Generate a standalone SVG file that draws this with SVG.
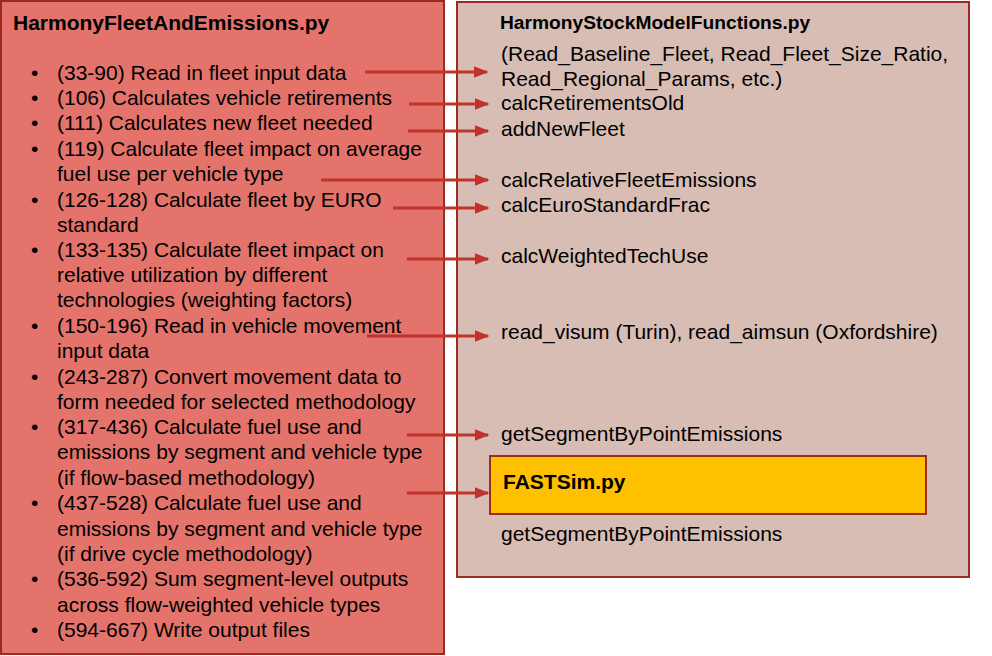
<svg xmlns="http://www.w3.org/2000/svg" width="992" height="656" viewBox="0 0 992 656">
<defs>
<style>
text{font-family:"Liberation Sans",Arial,sans-serif;font-size:21px;fill:#000}
.b{font-weight:bold}
.t2{font-size:19.2px}
.c{stroke:#c0322b;stroke-width:3;fill:none}
</style>
<marker id="ah" markerWidth="5" markerHeight="4" refX="4.5" refY="2" orient="auto" markerUnits="strokeWidth">
<path d="M0,0 L5,2 L0,4 z" fill="#c0322b"/>
</marker>
</defs>
<rect width="992" height="656" fill="#fff"/>
<g id="fleet">
<rect x="1" y="1" width="443" height="653" fill="#e3736b" stroke="#9b2a22" stroke-width="2"/>
<text class="b" x="13" y="30">HarmonyFleetAndEmissions.py</text>
<g>
<text x="31" y="80">•</text><text x="57" y="80">(33-90) Read in fleet input data</text>
<text x="31" y="105">•</text><text x="57" y="105">(106) Calculates vehicle retirements</text>
<text x="31" y="130">•</text><text x="57" y="130">(111) Calculates new fleet needed</text>
<text x="31" y="156">•</text><text x="57" y="156">(119) Calculate fleet impact on average</text>
<text x="57" y="181">fuel use per vehicle type</text>
<text x="31" y="207">•</text><text x="57" y="207">(126-128) Calculate fleet by EURO</text>
<text x="57" y="232">standard</text>
<text x="31" y="257">•</text><text x="57" y="257">(133-135) Calculate fleet impact on</text>
<text x="57" y="282">relative utilization by different</text>
<text x="57" y="307">technologies (weighting factors)</text>
<text x="31" y="333">•</text><text x="57" y="333">(150-196) Read in vehicle movement</text>
<text x="57" y="358">input data</text>
<text x="31" y="384">•</text><text x="57" y="384">(243-287) Convert movement data to</text>
<text x="57" y="409">form needed for selected methodology</text>
<text x="31" y="434">•</text><text x="57" y="434">(317-436) Calculate fuel use and</text>
<text x="57" y="459">emissions by segment and vehicle type</text>
<text x="57" y="485">(if flow-based methodology)</text>
<text x="31" y="510">•</text><text x="57" y="510">(437-528) Calculate fuel use and</text>
<text x="57" y="536">emissions by segment and vehicle type</text>
<text x="57" y="561">(if drive cycle methodology)</text>
<text x="31" y="586">•</text><text x="57" y="586">(536-592) Sum segment-level outputs</text>
<text x="57" y="612">across flow-weighted vehicle types</text>
<text x="31" y="637">•</text><text x="57" y="637">(594-667) Write output files</text>
</g>
</g>
<g id="stock">
<rect x="457" y="2" width="512" height="575" fill="#d8bdb4" stroke="#9b2a22" stroke-width="2"/>
<text class="b t2" x="500" y="29">HarmonyStockModelFunctions.py</text>
<text x="501" y="61">(Read_Baseline_Fleet, Read_Fleet_Size_Ratio,</text>
<text x="501" y="86">Read_Regional_Params, etc.)</text>
<text x="501" y="110">calcRetirementsOld</text>
<text x="501" y="136">addNewFleet</text>
<text x="501" y="187">calcRelativeFleetEmissions</text>
<text x="501" y="212">calcEuroStandardFrac</text>
<text x="501" y="263">calcWeightedTechUse</text>
<text x="501" y="339">read_visum (Turin), read_aimsun (Oxfordshire)</text>
<text x="501" y="441">getSegmentByPointEmissions</text>
<text x="501" y="541">getSegmentByPointEmissions</text>
</g>
<g id="fastsim">
<rect x="490" y="456" width="436" height="58" fill="#ffc000" stroke="#9b2a22" stroke-width="2"/>
<text class="b" x="503" y="489">FASTSim.py</text>
</g>
<g id="connectors">
<line class="c" x1="365" y1="72" x2="487" y2="72" marker-end="url(#ah)"/>
<line class="c" x1="409" y1="104" x2="488" y2="104" marker-end="url(#ah)"/>
<line class="c" x1="408" y1="131" x2="488" y2="131" marker-end="url(#ah)"/>
<line class="c" x1="321" y1="180" x2="488" y2="180" marker-end="url(#ah)"/>
<line class="c" x1="393" y1="208" x2="488" y2="208" marker-end="url(#ah)"/>
<line class="c" x1="407" y1="259" x2="488" y2="259" marker-end="url(#ah)"/>
<line class="c" x1="367" y1="336" x2="488" y2="336" marker-end="url(#ah)"/>
<line class="c" x1="407" y1="435" x2="488" y2="435" marker-end="url(#ah)"/>
<line class="c" x1="407" y1="493" x2="488" y2="493" marker-end="url(#ah)"/>
</g>
</svg>
